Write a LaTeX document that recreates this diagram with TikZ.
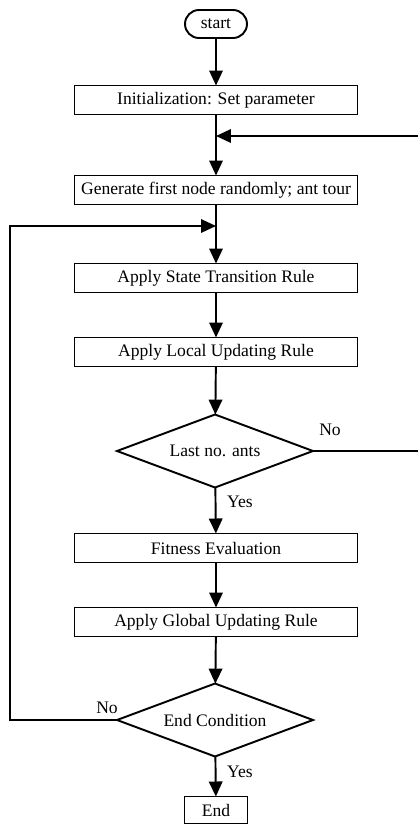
\documentclass[tikz,border=0pt]{standalone}
\usepackage{fontspec}
\setmainfont{Liberation Serif}
\usetikzlibrary{arrows.meta,shapes.geometric}

\begin{document}
\begin{tikzpicture}[x=0.02cm, y=-0.02cm, line width=1.1pt,
    every node/.style={font=\fontsize{10}{12}\selectfont, outer sep=0pt},
    procbox/.style={draw, rectangle, minimum width=5.66cm, minimum height=0.58cm, inner sep=0pt},
    decision/.style={draw, diamond, aspect=2.68, minimum width=3.92cm, minimum height=1.46cm, inner sep=0pt},
    flow/.style={-{Triangle[length=3mm, width=2.7mm]}}]
    \useasboundingbox (0,0) rectangle (417,825);

    % Boxes
    \node[draw, rounded corners=0.28cm, minimum width=1.24cm, minimum height=0.56cm, inner sep=0pt] (start) at (216,24) {start};
    \node[procbox] (init) at (216,100) {Initialization: Set parameter};
    \node[procbox] (gen) at (216,190) {Generate first node randomly; ant tour};
    \node[procbox] (state) at (216,278) {Apply State Transition Rule};
    \node[procbox] (local) at (216,352) {Apply Local Updating Rule};
    \node[decision] (lastants) at (215,451) {Last no. ants};
    \node[procbox] (fitness) at (216,548) {Fitness Evaluation};
    \node[procbox] (global) at (216,622) {Apply Global Updating Rule};
    \node[decision] (endcond) at (215,720) {End Condition};
    \node[draw, rectangle, minimum width=1.26cm, minimum height=0.54cm, inner sep=0pt] (finish) at (216,810) {End};

    % Labels
    \node (no1) at (330,430) {No};
    \node (yes1) at (240,502) {Yes};
    \node (no2) at (107,708) {No};
    \node (yes2) at (240,772) {Yes};

    % Joins
    \coordinate (join1) at (216,136);
    \coordinate (join2) at (216,226);

    % Arrows
    \draw[flow] (start) -- (init);
    \draw[flow] (init) -- (gen);
    \draw[flow] (gen) -- (state);
    \draw[flow] (state) -- (local);
    \draw[flow] (local) -- (lastants);
    \draw[flow] (lastants) -- (fitness);
    \draw[flow] (fitness) -- (global);
    \draw[flow] (global) -- (endcond);
    \draw[flow] (endcond) -- (finish);

    % Loops
    \draw[flow] (lastants.east) -- (425,451) -- (425,136) -- (join1);
    \draw[flow] (endcond.west) -- (10,720) -- (10,226) -- (join2);

\end{tikzpicture}
\end{document}
